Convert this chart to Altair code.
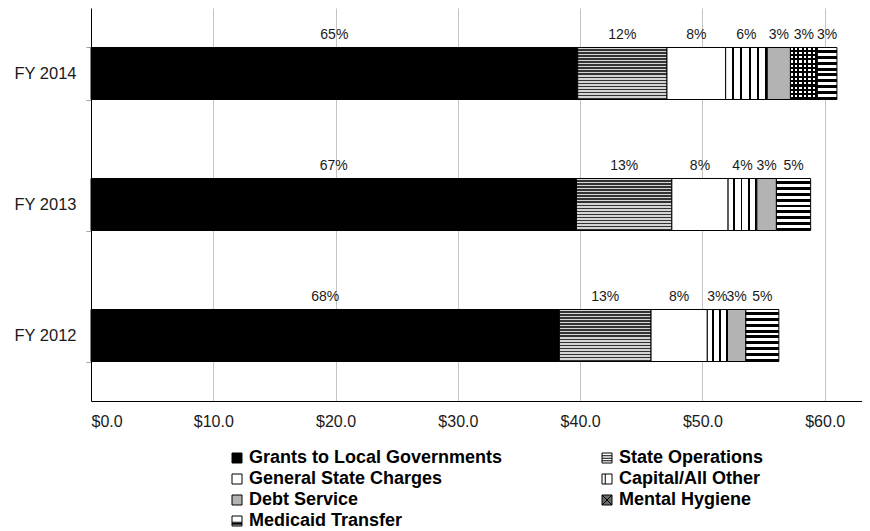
import altair as alt
import pandas as pd

# ---------------- data ----------------
years = ["FY 2014", "FY 2013", "FY 2012"]
series = ["Grants to Local Governments", "State Operations", "General State Charges",
          "Capital/All Other", "Debt Service", "Mental Hygiene", "Medicaid Transfer"]

grants = [39.8, 39.7, 38.3]
state_ops = [7.3, 7.8, 7.5]
gen_charges = [4.8, 4.6, 4.6]
capital = [3.4, 2.35, 1.65]
debt = [1.9, 1.6, 1.5]
mental = [2.2, 0.0, 0.0]
medicaid = [1.6, 2.8, 2.7]

grants_pct = ["65%", "67%", "68%"]
state_ops_pct = ["12%", "13%", "13%"]
gen_charges_pct = ["8%", "8%", "8%"]
capital_pct = ["6%", "4%", "3%"]
debt_pct = ["3%", "3%", "3%"]
mental_pct = ["3%", "", ""]
medicaid_pct = ["3%", "5%", "5%"]

x_ticks = [0, 10, 20, 30, 40, 50, 60]

values = [grants, state_ops, gen_charges, capital, debt, mental, medicaid]
pcts = [grants_pct, state_ops_pct, gen_charges_pct, capital_pct, debt_pct, mental_pct, medicaid_pct]

rows = []
for yi, yr in enumerate(years):
    acc = 0.0
    for si, s in enumerate(series):
        v = values[si][yi]
        if v <= 0:
            continue
        rows.append(dict(year=yr, series=s, value=v, start=acc, end=acc + v,
                         mid=acc + v / 2, pct=pcts[si][yi]))
        acc += v
df = pd.DataFrame(rows)

# ---------------- layout ----------------
FONT = "Liberation Sans, Arial, sans-serif"
W, H = 771, 393
XMAX = 63.05
PX = W / XMAX
BAR_PX = 52


def stripes(n, pattern, vertical):
    stops = []
    for i in range(n):
        pos = i / n
        for color, frac in pattern:
            end = min(1.0, pos + frac / n)
            stops.append({"offset": round(pos, 5), "color": color})
            stops.append({"offset": round(end, 5), "color": color})
            pos = end
    g = {"gradient": "linear", "stops": stops, "x1": 0, "y1": 0}
    if vertical:
        g.update({"x2": 1, "y2": 0})
    else:
        g.update({"x2": 0, "y2": 1})
    return g


state_ops_fill = stripes(17, [("#d4d4d4", 0.5), ("#333333", 0.5)], vertical=False)
medicaid_fill = stripes(9, [("#ffffff", 0.5), ("#000000", 0.5)], vertical=False)
mh_base_fill = stripes(12, [("#ffffff", 0.5), ("#000000", 0.5)], vertical=False)

x_scale = alt.Scale(domain=[0, XMAX], nice=False, zero=False)
y_scale = alt.Scale(domain=years, paddingInner=0.603, paddingOuter=0.3015)
x_axis = alt.Axis(values=x_ticks, format="$.1f", title=None, grid=True, ticks=False,
                  gridColor="#c4c4c4", gridWidth=1, domainColor="#000000", domainWidth=1,
                  labelFontSize=16, labelFont=FONT, labelColor="#1a1a1a", labelPadding=12)
y_axis = alt.Axis(title=None, grid=False, ticks=True, tickBand="extent", tickSize=5,
                  tickColor="#a0a0a0", domainColor="#000000", domainWidth=1,
                  labelFontSize=16.5, labelFont=FONT, labelColor="#1a1a1a", labelPadding=10)

base = alt.Chart(df)


def bar_layer(name, fill, year=None):
    cond = alt.datum.series == name
    if year is not None:
        cond = cond & (alt.datum.year == year)
    return base.transform_filter(cond).mark_bar(fill=fill, stroke="black", strokeWidth=1).encode(
        x=alt.X("start:Q", scale=x_scale, axis=x_axis),
        x2="end:Q",
        y=alt.Y("year:N", scale=y_scale, axis=y_axis),
    )


layers = [
    bar_layer("Grants to Local Governments", "#000000"),
    bar_layer("State Operations", state_ops_fill),
    bar_layer("General State Charges", "#ffffff"),
]
for yi, yr in enumerate(years):
    w = capital[yi] * PX
    n = max(1, round(w / 7.7))
    layers.append(bar_layer("Capital/All Other",
                            stripes(n, [("#ffffff", 0.75), ("#000000", 0.25)], vertical=True), yr))
layers.append(bar_layer("Debt Service", "#b3b3b3"))
for yi, yr in enumerate(years):
    if mental[yi] <= 0:
        continue
    w = mental[yi] * PX
    n = max(1, round(w / 4.3))
    layers.append(bar_layer("Mental Hygiene", mh_base_fill, yr))
    layers.append(bar_layer("Mental Hygiene",
                            stripes(n, [("rgba(0,0,0,0)", 0.5), ("#000000", 0.5)], vertical=True), yr))
layers.append(bar_layer("Medicaid Transfer", medicaid_fill))

labels = base.transform_filter(alt.datum.pct != "").mark_text(
    fontSize=14, font=FONT, color="#1a1a1a", baseline="middle", align="center", dy=-(BAR_PX / 2 + 13)
).encode(
    x=alt.X("mid:Q", scale=x_scale, axis=x_axis),
    y=alt.Y("year:N", scale=y_scale, axis=y_axis),
    text="pct:N",
)
layers.append(labels)

sq = "M-1,-1H1V1H-1Z"
legend_paths = [
    sq,
    sq + " M-1,-0.45H1 M-1,0.05H1 M-1,0.55H1",
    sq,
    sq + " M-0.35,-1V1",
    sq,
    sq + " M-1,-1L1,1 M1,-1L-1,1",
    sq + " M-1,0.25H1 M-1,0.5H1 M-1,0.75H1",
]
legend_fills = ["#000000", "#ffffff", "#ffffff", "#ffffff", "#b3b3b3", "#6a6a6a", "#ffffff"]

leg = alt.Legend(title=None, orient="none", legendX=137, legendY=441, columns=2,
                 direction="horizontal",
                 columnPadding=95, rowPadding=3, symbolSize=100, symbolStrokeColor="black",
                 symbolStrokeWidth=1, labelFontSize=18, labelFontWeight="bold", labelFont=FONT,
                 labelColor="#000000", labelOffset=3, labelLimit=400, padding=0)

legend_layer = base.transform_filter("false").mark_point(
    filled=True, opacity=1, stroke="black", strokeWidth=1
).encode(
    color=alt.Color("series:N", scale=alt.Scale(domain=series, range=legend_fills), legend=leg),
    shape=alt.Shape("series:N", scale=alt.Scale(domain=series, range=legend_paths), legend=leg),
)
layers.append(legend_layer)

chart = alt.layer(*layers).properties(
    width=W, height=H,
    autosize=alt.AutoSizeParams(type="none"),
    padding={"left": 83, "top": 0, "right": 0, "bottom": 130},
    background="white",
).configure_view(stroke=None)

chart.save("out.html", embed_options={"renderer": "svg", "actions": False})
